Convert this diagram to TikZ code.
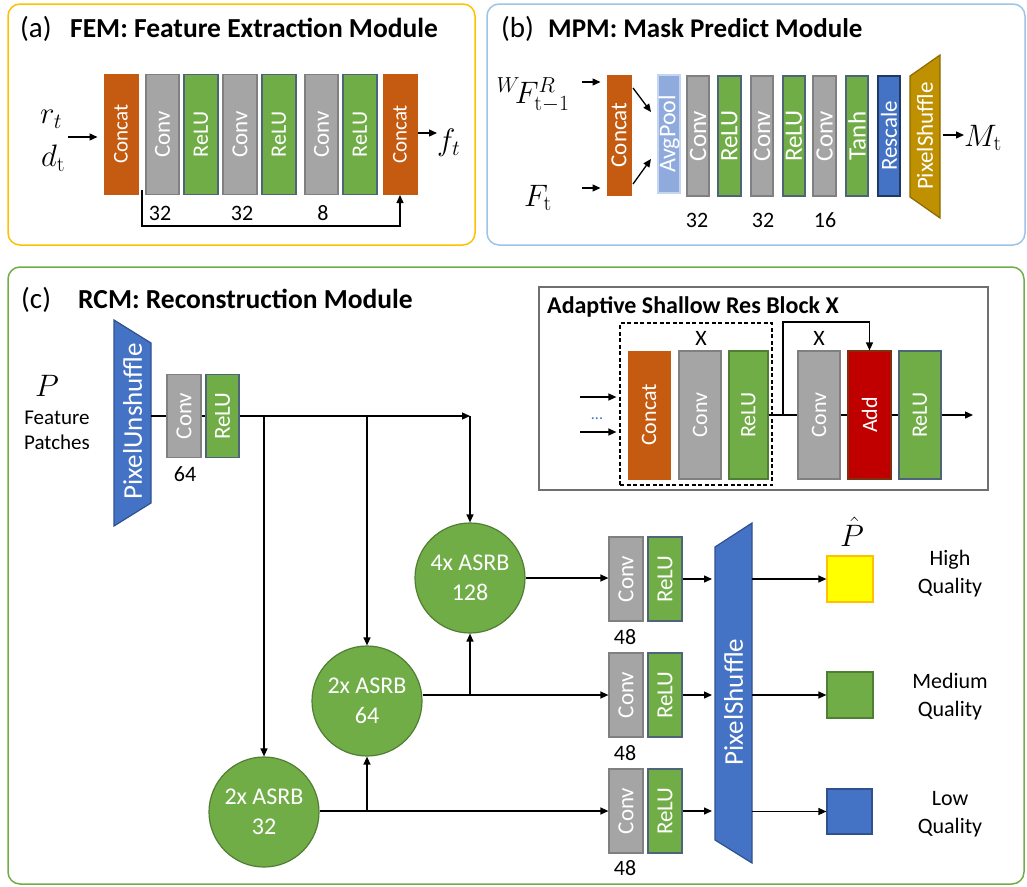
\RequirePackage{fix-cm}
\documentclass[tikz,border=0pt]{standalone}
\usepackage[no-math]{fontspec}
\setmainfont{Carlito}
\usetikzlibrary{arrows.meta,calc}
\definecolor{corange}{HTML}{C55A11}
\definecolor{cgrey}{HTML}{A5A5A5}
\definecolor{cgreyb}{HTML}{808080}
\definecolor{cgreen}{HTML}{70AD47}
\definecolor{cgreenb}{HTML}{4E6478}
\definecolor{cgreend}{HTML}{507E32}
\definecolor{cavg}{HTML}{8FAADC}
\definecolor{cavgb}{HTML}{C5D5F0}
\definecolor{cblue}{HTML}{4472C4}
\definecolor{cblueb}{HTML}{2F528F}
\definecolor{cnavy}{HTML}{1F3864}
\definecolor{cgold}{HTML}{BF9000}
\definecolor{cgoldb}{HTML}{8C6A00}
\definecolor{cred}{HTML}{C00000}
\definecolor{credb}{HTML}{7F3010}
\definecolor{cyel}{HTML}{FFFF00}
\definecolor{cyelb}{HTML}{FFC000}
\definecolor{cframeA}{HTML}{FFC000}
\definecolor{cframeB}{HTML}{9DC3E6}
\definecolor{cframeC}{HTML}{70AD47}
\definecolor{cinset}{HTML}{6F6F6F}
\newcommand\fs[1]{\fontsize{#1}{#1}\selectfont}
\newcommand\blk[8]{%
  \node[#6, minimum width=#4pt, minimum height=#5pt] (#1) at (#2,#3) {};
  \node[rotate=90, text=white, inner sep=0pt, font=\fs{#7}] (#1t) at (#1.center) {#8};}
\begin{document}
\begin{tikzpicture}[x=1pt,y=-1pt,
  ln/.style={line width=1.3pt, draw=black},
  arr/.style={ln, -{Triangle[length=8pt,width=7pt]}},
  org/.style={draw=corange, fill=corange, line width=1pt, inner sep=0pt},
  gry/.style={draw=cgreyb, fill=cgrey, line width=1.2pt, inner sep=0pt},
  grnA/.style={draw=cgreenb, fill=cgreen, line width=1.2pt, inner sep=0pt},
  grnD/.style={draw=cgreend, fill=cgreen, line width=1.2pt, inner sep=0pt},
  avg/.style={draw=cavgb, fill=cavg, line width=1.2pt, inner sep=0pt},
  resc/.style={draw=cnavy, fill=cblue, line width=1.2pt, inner sep=0pt},
  addb/.style={draw=credb, fill=cred, line width=1.2pt, inner sep=0pt},
  circ/.style={circle, draw=cgreend, fill=cgreen, line width=1.2pt, minimum size=110pt, inner sep=0pt, text=white, align=center, font=\fontsize{24}{30}\selectfont},
  num/.style={inner sep=0pt, font=\fs{22}},
  lbl/.style={inner sep=0pt, align=center, font=\fontsize{22}{28}\selectfont},
  mth/.style={inner sep=0pt, font=\fs{31}},
  ttl/.style={inner sep=0pt, anchor=base west, font=\bfseries\fs{27.5}},
  ttn/.style={inner sep=0pt, anchor=base west, font=\fs{29}}
]
\useasboundingbox (0,0) rectangle (1027,886);
% ---------- frames
\draw[cframeA, line width=1.5pt, rounded corners=12pt] (8,4) rectangle (475,245);
\draw[cframeB, line width=1.5pt, rounded corners=12pt] (487,4) rectangle (1025,245);
\draw[cframeC, line width=1.5pt, rounded corners=12pt] (8,267) rectangle (1024,884);
% ---------- (a)
\node[ttn] (ta) at (20,37) {(a)};
\node[ttl] (tA) at (70,37) {FEM: Feature Extraction Module};
\blk{acat1}{121}{134}{34}{120}{org}{21}{Concat}
\blk{aconv1}{162.5}{134.5}{33}{120}{gry}{23}{Conv}
\blk{arelu1}{201}{134.5}{34}{120}{grnA}{22}{ReLU}
\blk{aconv2}{240}{134.5}{34}{120}{gry}{23}{Conv}
\blk{arelu2}{279}{134.5}{34}{120}{grnA}{22}{ReLU}
\blk{aconv3}{321.5}{134.5}{33}{120}{gry}{23}{Conv}
\blk{arelu3}{360}{134.5}{34}{120}{grnA}{22}{ReLU}
\blk{acat2}{400}{134.5}{34}{120}{org}{21}{Concat}
\node[mth] (rt) at (51,119) {$r_t$};
\node[mth] (dt) at (53,158) {$d_{\mathrm{t}}$};
\coordinate (ain) at (68,137);
\draw[arr] (ain) -- ($(ain -| acat1.west)+(-6,0)$);
\node[mth, anchor=west] (ft) at (437,143) {$f_t$};
\draw[arr] (acat2.east |- 0,133) -- (ft.west |- 0,133);
\coordinate (sk1) at (142,190);
\draw[arr] (sk1) -- ++(0,36) -| (acat2.south);
\node[num] (na1) at (160,213) {32};
\node[num] (na2) at (242,213) {32};
\node[num] (na3) at (323,213) {8};
% ---------- (b)
\node[ttn] (tb) at (501,37) {(b)};
\node[ttl, font=\bfseries\fs{27}] (tB) at (548,37) {MPM: Mask Predict Module};
\blk{bcat}{619}{135}{24}{120}{org}{23}{Concat}
\blk{bavg}{669}{134}{22}{118}{avg}{24}{AvgPool}
\blk{bconv1}{698}{136}{22}{120}{gry}{25}{Conv}
\blk{brelu1}{729.5}{136}{23}{120}{grnA}{25}{ReLU}
\blk{bconv2}{762}{136}{22}{120}{gry}{25}{Conv}
\blk{brelu2}{794}{136}{22}{120}{grnA}{25}{ReLU}
\blk{bconv3}{824.5}{136}{23}{120}{gry}{25}{Conv}
\blk{btanh}{857}{136}{22}{120}{grnA}{25}{Tanh}
\blk{bresc}{889}{136}{22}{120}{resc}{23}{Rescale}
\draw[draw=cgoldb, fill=cgold, line width=1.2pt] (910,76) coordinate (bpsA) -- (940,55) -- (940,218) -- (910,197) -- cycle;
\coordinate (bpsR) at (940,135);
\node[rotate=90, text=white, inner sep=0pt, font=\fs{23}] (bpst) at (925,136) {PixelShuffle};
\node[inner sep=0pt, font=\fs{31}] (wf) at (533,95) {${}^{W}\!F^{R}_{\mathrm{t}-1}$};
\node[mth] (Ft) at (538,198) {$F_{\mathrm{t}}$};
\coordinate (bin1) at (582,82);
\coordinate (bin2) at (582,188);
\draw[arr] (bin1) -- ($(bin1 -| bcat.west)+(-6,0)$);
\draw[arr] (bin2) -- ($(bin2 -| bcat.west)+(-6,0)$);
\coordinate (bd1s) at (633,88); \coordinate (bd1e) at (651,112);
\coordinate (bd2s) at (633,184); \coordinate (bd2e) at (651,159);
\draw[arr] (bd1s) -- (bd1e);
\draw[arr] (bd2s) -- (bd2e);
\node[mth, anchor=west] (Mt) at (964,138) {$M_{\mathrm{t}}$};
\draw[arr] ($(bpsR)+(3,0)$) -- (Mt.west |- bpsR);
\node[num] (nb1) at (697,220) {32};
\node[num] (nb2) at (763,220) {32};
\node[num] (nb3) at (825,220) {16};
% ---------- (c)
\node[ttn] (tc) at (21,308) {(c)};
\node[ttl] (tC) at (78,308) {RCM: Reconstruction Module};
\draw[draw=cblueb, fill=cblue, line width=1.2pt] (114,320) -- (151,343) -- (151,503) -- (114,526) -- cycle;
\coordinate (puR) at (151,416);
\node[rotate=90, text=white, inner sep=0pt, font=\fs{27}] (put) at (132.5,421) {PixelUnshuffle};
\node[mth] (P) at (47,386) {$P$};
\node[inner sep=0pt, align=center, font=\fontsize{21}{25}\selectfont] (fp) at (57,430) {Feature\\Patches};
\blk{cv0}{184}{416}{34}{83}{gry}{23}{Conv}
\blk{rl0}{222.5}{416}{33}{83}{grnA}{23}{ReLU}
\node[num] (n64) at (185,474) {64};
\node[circ] (C128) at (470,578) {4x ASRB\\128};
\node[circ] (C64) at (367,701) {2x ASRB\\64};
\node[circ] (C32) at (264,812) {2x ASRB\\32};
\draw[ln] (puR) -- (cv0.west);
\draw[ln] (cv0.east) -- (rl0.west);
\draw[arr] (rl0.east) -- (C128.north |- rl0.east);
\draw[arr] (C128.north |- rl0.east) -- (C128.north);
\draw[arr] (C64.north |- rl0.east) -- (C64.north);
\draw[arr] (C32.north |- rl0.east) -- (C32.north);
\blk{cv1}{626}{579}{34}{84}{gry}{23}{Conv}
\blk{rl1}{665}{579}{34}{84}{grnA}{23}{ReLU}
\blk{cv2}{626}{695}{34}{84}{gry}{23}{Conv}
\blk{rl2}{665}{695}{34}{84}{grnA}{23}{ReLU}
\blk{cv3}{626}{811}{34}{84}{gry}{23}{Conv}
\blk{rl3}{665}{811}{34}{84}{grnA}{23}{ReLU}
\node[num] (n48a) at (625,637) {48};
\node[num] (n48b) at (625,753) {48};
\node[num] (n48c) at (625,868) {48};
\draw[arr] (C128.east) -- (C128.east -| cv1.west);
\draw[arr] (C64.east |- cv2.west) -- (cv2.west);
\draw[arr] (C32.east |- cv3.west) -- (cv3.west);
\draw[arr] (C128.south |- cv2.west) -- (C128.south);
\draw[arr] (C64.south |- cv3.west) -- (C64.south);
\draw[draw=cblueb, fill=cblue, line width=1.2pt] (715,547) -- (752,523) -- (752,863) -- (715,840) -- cycle;
\coordinate (psL) at (712,700);
\coordinate (psR) at (752,700);
\node[rotate=90, text=white, inner sep=0pt, font=\fs{27}] (pst) at (733.5,702) {PixelShuffle};
\draw[arr] (rl1.east) -- (rl1.east -| psL);
\draw[arr] (rl2.east) -- (rl2.east -| psL);
\draw[arr] (rl3.east) -- (rl3.east -| psL);
\node[draw=cyelb, fill=cyel, line width=1.2pt, minimum size=46pt, inner sep=0pt] (sqY) at (850,579) {};
\node[draw=cgreend, fill=cgreen, line width=1.2pt, minimum size=46pt, inner sep=0pt] (sqG) at (850,695) {};
\node[draw=cblueb, fill=cblue, line width=1.2pt, minimum size=45pt, inner sep=0pt] (sqB) at (849.5,811.5) {};
\draw[arr] (psR |- sqY.west) -- (sqY.west);
\draw[arr] (psR |- sqG.west) -- (sqG.west);
\draw[arr] (psR |- sqB.west) -- (sqB.west);
\node[inner sep=0pt, font=\fs{31}] (Ph) at (852,532) {$\hat{P}$};
\node[lbl] (lH) at (950,574) {High\\Quality};
\node[lbl] (lM) at (950,697) {Medium\\Quality};
\node[lbl] (lL) at (950,814) {Low\\Quality};
% ---------- inset ASRB
\draw[cinset, line width=2pt] (539,287) rectangle (988,490);
\node[inner sep=0pt, anchor=base west, font=\bfseries\fs{24}] (tI) at (547,313) {Adaptive Shallow Res Block X};
\node[draw, dash pattern=on 4pt off 2.5pt, line width=1.2pt, minimum width=152pt, minimum height=162pt, inner sep=0pt] (dbox) at (696,404) {};
\node[inner sep=0pt, font=\fs{22}] (x1) at (701,338) {X};
\node[inner sep=0pt, font=\fs{22}] (x2) at (819,338) {X};
\blk{icat}{649}{415}{42}{128}{org}{22}{Concat}
\blk{iconv1}{700}{415}{42}{128}{gry}{22}{Conv}
\blk{irelu1}{748.5}{415}{39}{128}{grnD}{22}{ReLU}
\blk{iconv2}{819}{415}{42}{128}{gry}{22}{Conv}
\blk{iadd}{869.5}{415}{43}{128}{addb}{22}{Add}
\blk{irelu2}{920}{415}{42}{128}{grnA}{22}{ReLU}
\coordinate (ii1) at (580,397);
\coordinate (ii2) at (580,432);
\draw[arr] (ii1) -- ($(ii1 -| dbox.west)+(-3,0)$);
\draw[arr] (ii2) -- ($(ii2 -| dbox.west)+(-3,0)$);
\node[inner sep=0pt, text=cblue, font=\fs{16}] (idots) at (597,419) {...};
\draw[ln] (irelu1.east) -- (iconv2.west);
\draw[ln] (iconv2.east) -- (iadd.west);
\draw[ln] (iadd.east) -- (irelu2.west);
\coordinate (iout) at (973,415);
\draw[arr] (irelu2.east) -- (iout);
\coordinate (isk) at (783,415);
\draw[arr] (isk) -- ++(0,-93) -| (iadd.north);
\end{tikzpicture}
\end{document}
